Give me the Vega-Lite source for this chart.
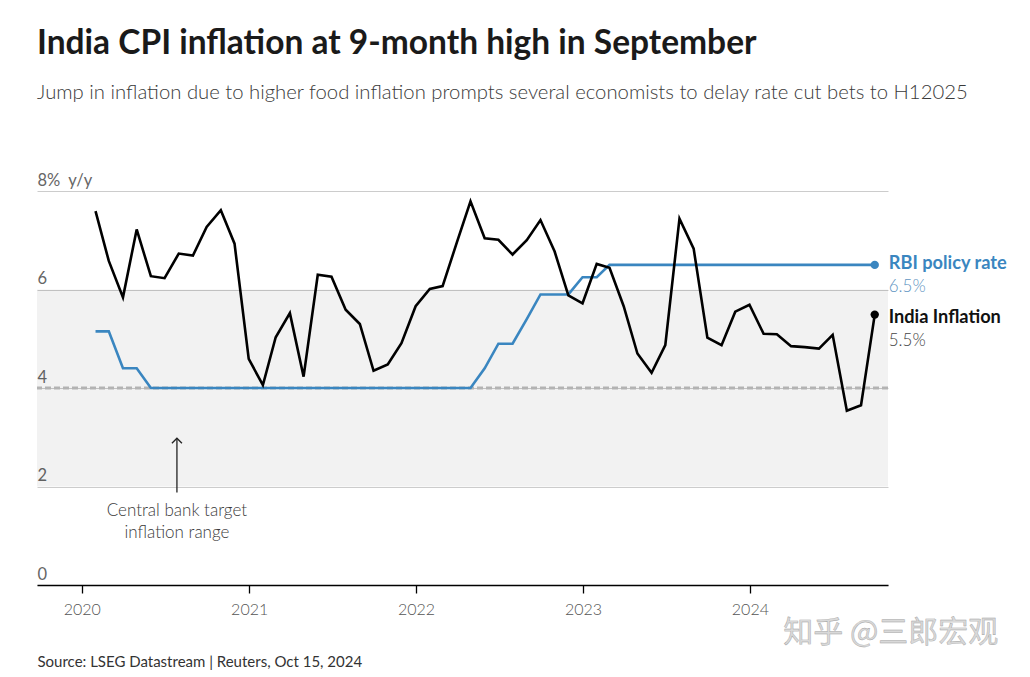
{
  "$schema": "https://vega.github.io/schema/vega-lite/v6.json",
  "width": 851,
  "height": 394,
  "autosize": {"type": "none"},
  "padding": {"left": 37, "top": 191, "right": 142, "bottom": 92},
  "background": "white",
  "title": {
    "text": "India CPI inflation at 9-month high in September",
    "subtitle": "Jump in inflation due to higher food inflation prompts several economists to delay rate cut bets to H12025",
    "anchor": "start",
    "frame": "group",
    "font": "Lato",
    "fontSize": 33.5,
    "fontWeight": "bold",
    "color": "#1a1a1a",
    "subtitleFont": "Lato",
    "subtitleFontSize": 20.3,
    "subtitleFontWeight": 300,
    "subtitleColor": "#3a3a3a",
    "subtitlePadding": 21,
    "offset": 68
  },
  "config": {"view": {"stroke": null}, "font": "Lato"},
  "datasets": {
    "monthly": [
      {"date": "2020-01-31", "cpi": 7.59, "repo": 5.15},
      {"date": "2020-02-29", "cpi": 6.58, "repo": 5.15},
      {"date": "2020-03-31", "cpi": 5.84, "repo": 4.4},
      {"date": "2020-04-30", "cpi": 7.22, "repo": 4.4},
      {"date": "2020-05-31", "cpi": 6.27, "repo": 4.0},
      {"date": "2020-06-30", "cpi": 6.23, "repo": 4.0},
      {"date": "2020-07-31", "cpi": 6.73, "repo": 4.0},
      {"date": "2020-08-31", "cpi": 6.69, "repo": 4.0},
      {"date": "2020-09-30", "cpi": 7.27, "repo": 4.0},
      {"date": "2020-10-31", "cpi": 7.61, "repo": 4.0},
      {"date": "2020-11-30", "cpi": 6.93, "repo": 4.0},
      {"date": "2020-12-31", "cpi": 4.59, "repo": 4.0},
      {"date": "2021-01-31", "cpi": 4.06, "repo": 4.0},
      {"date": "2021-02-28", "cpi": 5.03, "repo": 4.0},
      {"date": "2021-03-31", "cpi": 5.52, "repo": 4.0},
      {"date": "2021-04-30", "cpi": 4.23, "repo": 4.0},
      {"date": "2021-05-31", "cpi": 6.3, "repo": 4.0},
      {"date": "2021-06-30", "cpi": 6.26, "repo": 4.0},
      {"date": "2021-07-31", "cpi": 5.59, "repo": 4.0},
      {"date": "2021-08-31", "cpi": 5.3, "repo": 4.0},
      {"date": "2021-09-30", "cpi": 4.35, "repo": 4.0},
      {"date": "2021-10-31", "cpi": 4.48, "repo": 4.0},
      {"date": "2021-11-30", "cpi": 4.91, "repo": 4.0},
      {"date": "2021-12-31", "cpi": 5.66, "repo": 4.0},
      {"date": "2022-01-31", "cpi": 6.01, "repo": 4.0},
      {"date": "2022-02-28", "cpi": 6.07, "repo": 4.0},
      {"date": "2022-03-31", "cpi": 6.95, "repo": 4.0},
      {"date": "2022-04-30", "cpi": 7.79, "repo": 4.0},
      {"date": "2022-05-31", "cpi": 7.04, "repo": 4.4},
      {"date": "2022-06-30", "cpi": 7.01, "repo": 4.9},
      {"date": "2022-07-31", "cpi": 6.71, "repo": 4.9},
      {"date": "2022-08-31", "cpi": 7.0, "repo": 5.4},
      {"date": "2022-09-30", "cpi": 7.41, "repo": 5.9},
      {"date": "2022-10-31", "cpi": 6.77, "repo": 5.9},
      {"date": "2022-11-30", "cpi": 5.88, "repo": 5.9},
      {"date": "2022-12-31", "cpi": 5.72, "repo": 6.25},
      {"date": "2023-01-31", "cpi": 6.52, "repo": 6.25},
      {"date": "2023-02-28", "cpi": 6.44, "repo": 6.5},
      {"date": "2023-03-31", "cpi": 5.66, "repo": 6.5},
      {"date": "2023-04-30", "cpi": 4.7, "repo": 6.5},
      {"date": "2023-05-31", "cpi": 4.31, "repo": 6.5},
      {"date": "2023-06-30", "cpi": 4.87, "repo": 6.5},
      {"date": "2023-07-31", "cpi": 7.44, "repo": 6.5},
      {"date": "2023-08-31", "cpi": 6.83, "repo": 6.5},
      {"date": "2023-09-30", "cpi": 5.02, "repo": 6.5},
      {"date": "2023-10-31", "cpi": 4.87, "repo": 6.5},
      {"date": "2023-11-30", "cpi": 5.55, "repo": 6.5},
      {"date": "2023-12-31", "cpi": 5.69, "repo": 6.5},
      {"date": "2024-01-31", "cpi": 5.1, "repo": 6.5},
      {"date": "2024-02-29", "cpi": 5.09, "repo": 6.5},
      {"date": "2024-03-31", "cpi": 4.85, "repo": 6.5},
      {"date": "2024-04-30", "cpi": 4.83, "repo": 6.5},
      {"date": "2024-05-31", "cpi": 4.8, "repo": 6.5},
      {"date": "2024-06-30", "cpi": 5.08, "repo": 6.5},
      {"date": "2024-07-31", "cpi": 3.54, "repo": 6.5},
      {"date": "2024-08-31", "cpi": 3.65, "repo": 6.5},
      {"date": "2024-09-30", "cpi": 5.49, "repo": 6.5}
    ],
    "band": [{"lo": 2, "hi": 6}],
    "target": [{"value": 4}],
    "ends": [
      {"series": "RBI policy rate", "date": "2024-09-30", "value": 6.5, "valueText": "6.5%"},
      {"series": "India Inflation", "date": "2024-09-30", "value": 5.49, "valueText": "5.5%"}
    ],
    "notes": [
      {"date": "2020-07-27", "from": 1.88, "to": 2.98, "textAt": 1.5, "text": "Central bank target\ninflation range"}
    ],
    "wm": [{"date": "2024-11-04", "value": -0.97, "text": "知乎 @三郎宏观"}]
  },
  "layer": [
    {
      "data": {"name": "band"},
      "mark": {"type": "rect", "color": "#000000", "opacity": 0.051},
      "encoding": {
        "y": {
          "field": "lo",
          "type": "quantitative",
          "scale": {"domain": [0, 8], "nice": false},
          "axis": {
            "values": [0, 2, 4, 6, 8],
            "labelExpr": "datum.value == 8 ? '8%\u00a0\u00a0y/y' : datum.label",
            "orient": "left",
            "domain": false,
            "ticks": false,
            "tickSize": 0,
            "labelAlign": "left",
            "labelBaseline": "alphabetic",
            "labelPadding": 0,
            "labelOffset": -6,
            "labelOverlap": false,
            "labelFont": "Lato",
            "labelFontSize": 16.5,
            "labelFontWeight": "normal",
            "labelColor": "#666666",
            "gridColor": "#cccccc",
            "gridWidth": 1,
            "title": null
          }
        },
        "y2": {"field": "hi"}
      }
    },
    {
      "data": {"name": "target"},
      "mark": {"type": "rule", "color": "#b3b3b3", "strokeWidth": 2.8, "strokeDash": [6, 3]},
      "encoding": {"y": {"field": "value", "type": "quantitative"}}
    },
    {
      "data": {"name": "monthly"},
      "mark": {"type": "line", "color": "#3a86c0", "strokeWidth": 2.6},
      "encoding": {
        "x": {
          "field": "date",
          "type": "temporal",
          "scale": {"domain": [{"year": 2019, "month": 9, "date": 25, "utc": true}, {"year": 2024, "month": 10, "date": 29, "utc": true}]},
          "axis": {
            "values": [
              {"year": 2020, "month": 1, "date": 1, "utc": true},
              {"year": 2021, "month": 1, "date": 1, "utc": true},
              {"year": 2022, "month": 1, "date": 1, "utc": true},
              {"year": 2023, "month": 1, "date": 1, "utc": true},
              {"year": 2024, "month": 1, "date": 1, "utc": true}
            ],
            "format": "%Y",
            "formatType": "utc",
            "grid": false,
            "domainColor": "#000000",
            "domainWidth": 1.3,
            "tickColor": "#000000",
            "tickWidth": 1.3,
            "tickSize": 8,
            "labelFont": "Lato",
            "labelFontSize": 16,
            "labelFontWeight": 300,
            "labelColor": "#555555",
            "labelPadding": 8,
            "labelFlush": false,
            "title": "Source: LSEG Datastream | Reuters, Oct 15, 2024",
            "titleAnchor": "start",
            "titleAlign": "left",
            "titleX": 0,
            "titleY": 76,
            "titleBaseline": "middle",
            "titleFont": "Lato",
            "titleFontSize": 15,
            "titleFontWeight": "normal",
            "titleColor": "#333333"
          }
        },
        "y": {"field": "repo", "type": "quantitative"}
      }
    },
    {
      "data": {"name": "monthly"},
      "mark": {"type": "line", "color": "#000000", "strokeWidth": 2.6},
      "encoding": {
        "x": {"field": "date", "type": "temporal"},
        "y": {"field": "cpi", "type": "quantitative"}
      }
    },
    {
      "data": {"name": "ends"},
      "mark": {"type": "point", "filled": true, "size": 70, "opacity": 1},
      "encoding": {
        "x": {"field": "date", "type": "temporal"},
        "y": {"field": "value", "type": "quantitative"},
        "color": {"field": "series", "type": "nominal", "scale": {"domain": ["RBI policy rate", "India Inflation"], "range": ["#3a86c0", "#000000"]}, "legend": null}
      }
    },
    {
      "data": {"name": "ends"},
      "transform": [{"filter": "datum.series == 'RBI policy rate'"}],
      "mark": {"type": "text", "align": "left", "baseline": "alphabetic", "dx": 14, "dy": 4.5, "font": "Lato", "fontSize": 18.2, "fontWeight": "bold", "color": "#3a86c0"},
      "encoding": {
        "x": {"field": "date", "type": "temporal"},
        "y": {"field": "value", "type": "quantitative"},
        "text": {"field": "series"}
      }
    },
    {
      "data": {"name": "ends"},
      "transform": [{"filter": "datum.series == 'RBI policy rate'"}],
      "mark": {"type": "text", "align": "left", "baseline": "alphabetic", "dx": 14, "dy": 27, "font": "Lato", "fontSize": 17, "fontWeight": 300, "color": "#5f95c2"},
      "encoding": {
        "x": {"field": "date", "type": "temporal"},
        "y": {"field": "value", "type": "quantitative"},
        "text": {"field": "valueText"}
      }
    },
    {
      "data": {"name": "ends"},
      "transform": [{"filter": "datum.series == 'India Inflation'"}],
      "mark": {"type": "text", "align": "left", "baseline": "alphabetic", "dx": 14, "dy": 8.7, "font": "Lato", "fontSize": 18.2, "fontWeight": "bold", "color": "#111111"},
      "encoding": {
        "x": {"field": "date", "type": "temporal"},
        "y": {"field": "value", "type": "quantitative"},
        "text": {"field": "series"}
      }
    },
    {
      "data": {"name": "ends"},
      "transform": [{"filter": "datum.series == 'India Inflation'"}],
      "mark": {"type": "text", "align": "left", "baseline": "alphabetic", "dx": 14, "dy": 31.4, "font": "Lato", "fontSize": 17, "fontWeight": 300, "color": "#444444"},
      "encoding": {
        "x": {"field": "date", "type": "temporal"},
        "y": {"field": "value", "type": "quantitative"},
        "text": {"field": "valueText"}
      }
    },
    {
      "data": {"name": "notes"},
      "mark": {"type": "rule", "color": "#222222", "strokeWidth": 1.3},
      "encoding": {
        "x": {"field": "date", "type": "temporal"},
        "y": {"field": "from", "type": "quantitative"},
        "y2": {"field": "to"}
      }
    },
    {
      "data": {"name": "notes"},
      "mark": {"type": "point", "shape": "M-1,1L0,0L1,1", "filled": false, "size": 100, "stroke": "#222222", "strokeWidth": 1.3, "opacity": 1},
      "encoding": {
        "x": {"field": "date", "type": "temporal"},
        "y": {"field": "to", "type": "quantitative"}
      }
    },
    {
      "data": {"name": "notes"},
      "mark": {"type": "text", "align": "center", "baseline": "middle", "lineBreak": "\n", "lineHeight": 22, "font": "Lato", "fontSize": 17, "fontWeight": 300, "color": "#3a3a3a"},
      "encoding": {
        "x": {"field": "date", "type": "temporal"},
        "y": {"field": "textAt", "type": "quantitative"},
        "text": {"field": "text"}
      }
    },
    {
      "data": {"name": "wm"},
      "mark": {"type": "text", "align": "center", "baseline": "middle", "font": "Noto Sans CJK SC", "fontSize": 30, "color": "#d9d9d9", "stroke": "#a0a0a0", "strokeWidth": 0.4},
      "encoding": {
        "x": {"field": "date", "type": "temporal"},
        "y": {"field": "value", "type": "quantitative"},
        "text": {"field": "text"}
      }
    }
  ]
}
